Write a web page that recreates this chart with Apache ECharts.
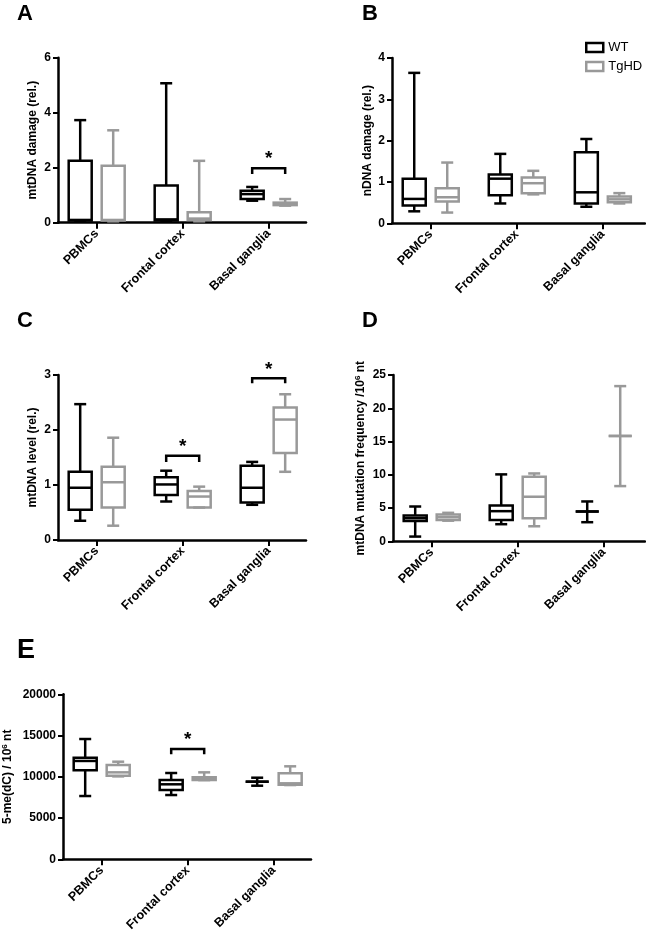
<!DOCTYPE html>
<html>
<head>
<meta charset="utf-8">
<script src="https://cdn.jsdelivr.net/npm/echarts@6/dist/echarts.min.js"></script>
<style>
html, body { margin: 0; padding: 0; background: #fff; }
#chart { width: 646px; height: 936px; }
</style>
</head>
<body>
<div id="chart"></div>
<script>
const categories = ['PBMCs', 'Frontal cortex', 'Basal ganglia'];

// each box: [min, q1, median, q3, max], one per category
const mtDamageWT = [[0.05, 0.08, 0.1, 2.25, 3.73], [0.05, 0.08, 0.12, 1.35, 5.07], [0.8, 0.86, 1.04, 1.16, 1.3]];
const mtDamageTg = [[0.05, 0.08, 0.1, 2.07, 3.36], [0.05, 0.1, 0.15, 0.38, 2.25], [0.62, 0.64, 0.68, 0.73, 0.86]];
const nDamageWT = [[0.29, 0.43, 0.59, 1.08, 3.64], [0.48, 0.68, 1.08, 1.18, 1.68], [0.4, 0.48, 0.75, 1.72, 2.04]];
const nDamageTg = [[0.26, 0.53, 0.63, 0.85, 1.47], [0.7, 0.73, 0.97, 1.11, 1.27], [0.48, 0.51, 0.58, 0.65, 0.73]];
const mtLevelWT = [[0.35, 0.55, 0.95, 1.24, 2.47], [0.7, 0.82, 1.01, 1.14, 1.26], [0.64, 0.68, 0.95, 1.35, 1.42]];
const mtLevelTg = [[0.26, 0.59, 1.05, 1.33, 1.86], [0.59, 0.59, 0.79, 0.89, 0.97], [1.24, 1.58, 2.19, 2.41, 2.65]];
const mutFreqWT = [[0.71, 3.07, 3.47, 3.88, 5.23], [2.57, 3.22, 4.53, 5.38, 10.06], [2.87, 4.48, 4.48, 4.48, 5.99]];
const mutFreqTg = [[3.1, 3.22, 3.62, 4.03, 4.28], [2.26, 3.47, 6.7, 9.7, 10.2], [8.3, 15.84, 15.84, 15.84, 23.33]];
const methylWT = [[7670, 10790, 11920, 12320, 14580], [7790, 8400, 9090, 9610, 10460], [8920, 9410, 9410, 9410, 9890]];
const methylTg = [[10050, 10130, 10540, 11430, 11830], [9600, 9610, 9730, 9940, 10540], [9000, 9050, 9210, 10420, 11270]];

// significance brackets: [category index, bar level, tip level]
const sigA = [[2, 1.98, 1.77]];
const sigC = [[1, 1.53, 1.42], [2, 2.94, 2.85]];
const sigE = [[1, 13380, 12730]];

const WT_COLOR = '#000';
const TG_COLOR = '#999';
const FONT = 'Liberation Sans, Arial, sans-serif';

// box drawn with the axes' own scales, shifted left/right of the category tick
const boxRender = (shift, color) => (params, api) => {
    const x = api.coord([api.value(0), 0])[0] + shift;
    const y = [1, 2, 3, 4, 5].map(i => api.coord([0, api.value(i)])[1]);
    const hw = 11.5, cw = 6;
    const st = { stroke: color, lineWidth: 2.5, fill: null };
    return {
        type: 'group',
        children: [
            { type: 'line', shape: { x1: x, y1: y[0], x2: x, y2: y[1] }, style: st },
            { type: 'line', shape: { x1: x, y1: y[3], x2: x, y2: y[4] }, style: st },
            { type: 'line', shape: { x1: x - cw, y1: y[0], x2: x + cw, y2: y[0] }, style: st },
            { type: 'line', shape: { x1: x - cw, y1: y[4], x2: x + cw, y2: y[4] }, style: st },
            { type: 'rect', shape: { x: x - hw, y: y[3], width: hw * 2, height: y[1] - y[3] }, style: { stroke: color, lineWidth: 2.5, fill: 'none' } },
            { type: 'line', shape: { x1: x - hw, y1: y[2], x2: x + hw, y2: y[2] }, style: st }
        ]
    };
};

const sigRender = (params, api) => {
    const c = api.coord([api.value(0), api.value(1)]);
    const tipY = api.coord([0, api.value(2)])[1];
    const x1 = c[0] - 16.5, x2 = c[0] + 16.5;
    return {
        type: 'group',
        children: [
            { type: 'polyline', shape: { points: [[x1, tipY], [x1, c[1]], [x2, c[1]], [x2, tipY]] }, style: { stroke: '#000', lineWidth: 2.5, fill: null } },
            { type: 'text', x: c[0], y: c[1] - 9, style: { text: '*', fontSize: 19, fontWeight: 'bold', fontFamily: FONT, fill: '#000', align: 'center', verticalAlign: 'middle' } }
        ]
    };
};

const toBoxData = arr => arr.map((b, i) => [i].concat(b));

const panels = [
    { grid: { left: 58, top: 57.7, width: 248, height: 165 }, xMax: 2.434, yMax: 6, interval: 2, name: 'mtDNA damage (rel.)', nameGap: 19, wt: mtDamageWT, tg: mtDamageTg, sig: sigA },
    { grid: { left: 392, top: 58, width: 253, height: 165.3 }, xMax: 2.49, yMax: 4, interval: 1, name: 'nDNA damage (rel.)', nameGap: 18, wt: nDamageWT, tg: nDamageTg, sig: [] },
    { grid: { left: 58, top: 375, width: 248, height: 165 }, xMax: 2.434, yMax: 3, interval: 1, name: 'mtDNA level (rel.)', nameGap: 19, wt: mtLevelWT, tg: mtLevelTg, sig: sigC },
    { grid: { left: 393, top: 375, width: 252, height: 166.3 }, xMax: 2.48, yMax: 25, interval: 5, name: '{a|mtDNA mutation frequency /10}{s|6}{a| nt}', nameGap: 25, wt: mutFreqWT, tg: mutFreqTg, sig: [] },
    { grid: { left: 63, top: 694.3, width: 248, height: 165 }, xMax: 2.434, yMax: 20000, interval: 5000, name: '{a|5-me(dC) / 10}{s|6}{a| nt}', nameGap: 48, wt: methylWT, tg: methylTg, sig: sigE }
];

const grids = [], xAxes = [], yAxes = [], series = [];

panels.forEach((p, i) => {
    grids.push(p.grid);
    xAxes.push({
        type: 'value', gridIndex: i, min: -0.45, max: p.xMax,
        splitLine: { show: false },
        axisLine: { show: true, onZero: false, lineStyle: { color: '#000', width: 2.5 } },
        axisTick: { show: true, length: 6, lineStyle: { width: 2, color: '#000' }, customValues: [0, 1, 2] },
        axisLabel: {
            customValues: [0, 1, 2], rotate: 45, margin: 9,
            formatter: v => categories[v],
            color: '#000', fontSize: 12.5, fontWeight: 'bold', fontFamily: FONT
        }
    });
    yAxes.push({
        type: 'value', gridIndex: i, min: 0, max: p.yMax, interval: p.interval,
        splitLine: { show: false },
        axisLine: { show: true, onZero: false, lineStyle: { color: '#000', width: 2.5 } },
        axisTick: { show: true, length: 5, lineStyle: { width: 2, color: '#000' } },
        axisLabel: { color: '#000', fontSize: 12, fontWeight: 'bold', fontFamily: FONT, margin: 7, formatter: v => String(v) },
        name: p.name, nameLocation: 'middle', nameGap: p.nameGap,
        nameTextStyle: {
            color: '#000', fontSize: 12, fontWeight: 'bold', fontFamily: FONT,
            rich: {
                a: { fontSize: 12, fontWeight: 'bold', fontFamily: FONT, color: '#000', lineHeight: 14 },
                s: { fontSize: 8, fontWeight: 'bold', fontFamily: FONT, color: '#000', verticalAlign: 'top', lineHeight: 14 }
            }
        }
    });
    series.push({
        name: 'WT', type: 'custom', xAxisIndex: i, yAxisIndex: i,
        renderItem: boxRender(-16.5, WT_COLOR), itemStyle: { color: WT_COLOR },
        data: toBoxData(p.wt), z: 3
    });
    series.push({
        name: 'TgHD', type: 'custom', xAxisIndex: i, yAxisIndex: i,
        renderItem: boxRender(16.5, TG_COLOR), itemStyle: { color: TG_COLOR },
        data: toBoxData(p.tg), z: 3
    });
    if (p.sig.length) {
        series.push({
            type: 'custom', xAxisIndex: i, yAxisIndex: i,
            renderItem: sigRender, data: p.sig, z: 4
        });
    }
});

const letter = (text, left, top, size) => ({
    text: text, left: left, top: top, padding: 0,
    textStyle: { fontSize: size, fontWeight: 'bold', fontFamily: FONT, color: '#000' }
});

const chart = echarts.init(document.getElementById('chart'), null, { renderer: 'canvas' });
chart.setOption({
    animation: false,
    backgroundColor: '#fff',
    title: [
        letter('A', 17, 3, 22),
        letter('B', 362, 3, 22),
        letter('C', 17, 310, 22),
        letter('D', 362, 310, 22),
        letter('E', 17, 637, 27)
    ],
    legend: {
        left: 580, top: 36, orient: 'vertical',
        itemWidth: 17, itemHeight: 9, itemGap: 6,
        icon: 'rect',
        textStyle: { fontSize: 13, color: '#000', fontFamily: FONT },
        data: [
            { name: 'WT', itemStyle: { color: '#fff', borderColor: WT_COLOR, borderWidth: 2.5 } },
            { name: 'TgHD', itemStyle: { color: '#fff', borderColor: TG_COLOR, borderWidth: 2.5 } }
        ]
    },
    grid: grids,
    xAxis: xAxes,
    yAxis: yAxes,
    series: series
});
</script>
</body>
</html>
